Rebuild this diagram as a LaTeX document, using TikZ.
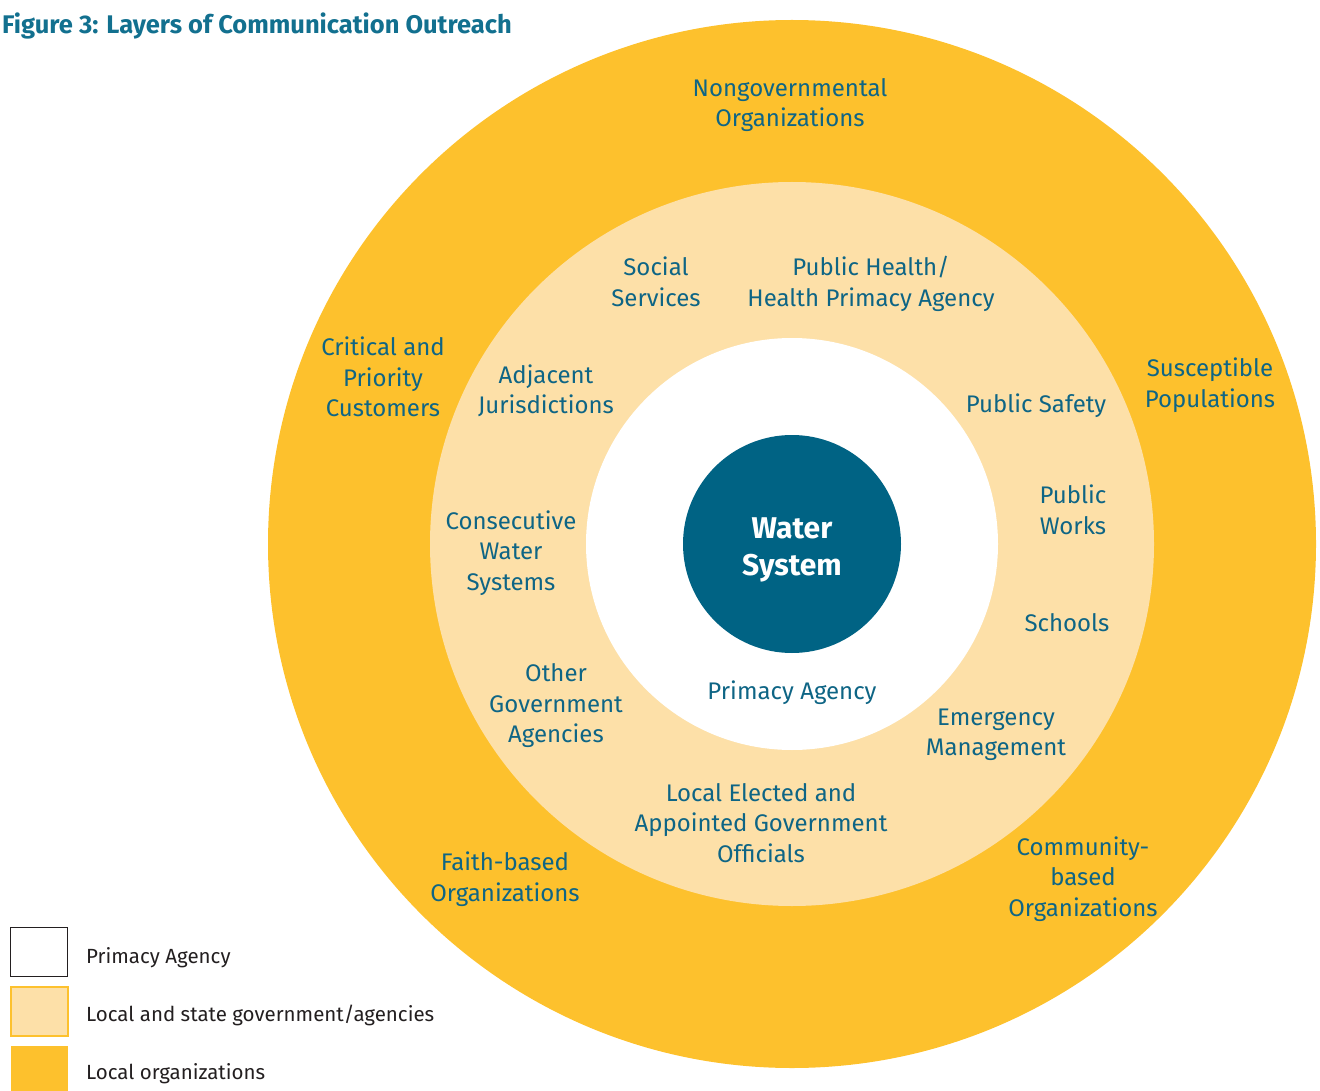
\documentclass[tikz,border=0pt]{standalone}
\usepackage{fontspec}
\setmainfont{Fira Sans}
\definecolor{outerc}{HTML}{FDC12D}
\definecolor{midc}{HTML}{FDE0A8}
\definecolor{darkc}{HTML}{006384}
\definecolor{labc}{HTML}{0E6585}
\definecolor{titc}{HTML}{12708F}
\definecolor{legc}{HTML}{231F20}
\tikzset{
  ring/.style={circle, inner sep=0pt, draw=none},
  lab/.style={text=labc, align=center, inner sep=0pt, font=\fontsize{24}{30.5}\selectfont},
  legbox/.style={minimum width=57pt, minimum height=49pt, inner sep=0pt},
  legtxt/.style={text=legc, anchor=west, inner sep=0pt, font=\fontsize{20.5}{24}\selectfont},
}
\begin{document}
\begin{tikzpicture}[x=1pt,y=-1pt]
\useasboundingbox (0,0) rectangle (1320,1091);
% rings
\node[ring, fill=outerc, minimum size=1048pt] (outer) at (792,544) {};
\node[ring, fill=midc, minimum size=724pt] (mid) at (792,544) {};
\node[ring, fill=white, minimum size=412pt] (inner) at (792,544) {};
\node[ring, fill=darkc, minimum size=218pt] (ws) at (792,544) {};
\node[text=white, align=center, inner sep=0pt,
      font=\fontsize{30}{37}\selectfont\bfseries] (wst) at (792,550) {Water\\System};
% title
\node[anchor=west, inner sep=0pt, text=titc, font=\fontsize{25.5}{28}\selectfont\bfseries] (title) at (2,26) {Figure 3: Layers of Communication Outreach};
% outer labels
\node[lab] (ngo) at (790,105) {Nongovernmental\\Organizations};
\node[lab] (crit) at (383,377) {Critical and\\Priority\\Customers};
\node[lab] (susc) at (1210,385) {Susceptible\\Populations};
\node[lab] (faith) at (505,879) {Faith-based\\Organizations};
\node[lab] (comm) at (1083,879) {Community-\\based\\Organizations};
% middle labels
\node[lab] (soc) at (656,282) {Social\\Services};
\node[lab] (ph) at (871,284) {Public Health/\\Health Primacy Agency};
\node[lab] (adj) at (546,391) {Adjacent\\Jurisdictions};
\node[lab] (psafe) at (1036,406) {Public Safety};
\node[lab] (pw) at (1073,510) {Public\\Works};
\node[lab] (cons) at (511,553) {Consecutive\\Water\\Systems};
\node[lab] (sch) at (1067,623) {Schools};
\node[lab] (oga) at (556,706) {Other\\Government\\Agencies};
\node[lab] (em) at (996,735) {Emergency\\Management};
\node[lab] (leo) at (761,823) {Local Elected and\\Appointed Government\\Officials};
% inner label
\node[lab] (pa) at (792,693) {Primacy Agency};
% legend
\node[legbox, draw=legc, line width=1.5pt, fill=white] (lb1) at (39,952) {};
\node[legbox, draw=outerc, line width=2pt, fill=midc] (lb2) at (39,1011.5) {};
\node[legbox, fill=outerc, minimum height=45pt] (lb3) at (39,1068.5) {};
\node[legtxt] (lt1) at (86,958) {Primacy Agency};
\node[legtxt] (lt2) at (86,1015) {Local and state government/agencies};
\node[legtxt] (lt3) at (86,1074) {Local organizations};
\end{tikzpicture}
\end{document}
